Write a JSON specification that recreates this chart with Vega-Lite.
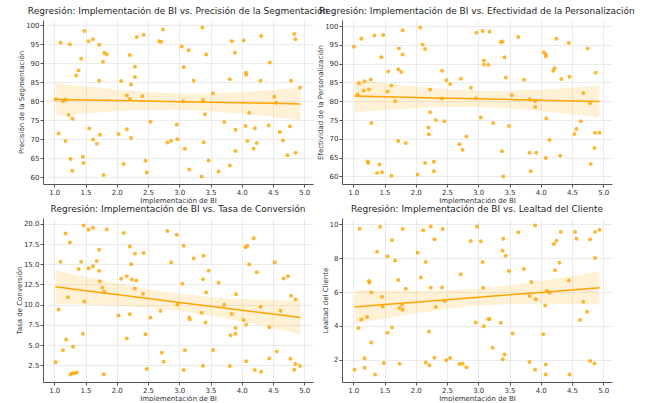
{
  "$schema": "https://vega.github.io/schema/vega-lite/v6.json",
  "padding": {"left": 15, "top": 7, "right": 0, "bottom": 0},
  "config": {
    "font": "DejaVu Sans",
    "view": {"stroke": null},
    "axis": {"labelFontSize": 7, "titleFontSize": 7, "labelColor": "#333333", "titleColor": "#333333", "titleFontWeight": "normal", "gridColor": "#e6e6e6", "gridWidth": 0.8, "domainColor": "#555555", "tickColor": "#555555", "tickSize": 3, "labelPadding": 1, "titlePadding": 1, "labelOverlap": false, "labelFlush": false},
    "title": {"fontSize": 9, "fontWeight": "normal", "color": "#262626", "offset": 4}
  },
  "datasets": {
    "band": [
      {"p":"A","x":1.02,"fit":80.5,"lo":76.2,"hi":84.8},{"p":"A","x":1.5,"fit":80.35,"lo":76.8,"hi":83.9},{"p":"A","x":2.0,"fit":80.2,"lo":77.34,"hi":83.06},{"p":"A","x":2.5,"fit":80.05,"lo":77.69,"hi":82.41},{"p":"A","x":3.0,"fit":79.89,"lo":77.73,"hi":82.05},{"p":"A","x":3.5,"fit":79.74,"lo":77.38,"hi":82.1},{"p":"A","x":4.0,"fit":79.59,"lo":76.73,"hi":82.45},{"p":"A","x":4.5,"fit":79.44,"lo":75.89,"hi":82.99},{"p":"A","x":4.94,"fit":79.3,"lo":75.06,"hi":83.54},
      {"p":"B","x":1.02,"fit":81.4,"lo":77.1,"hi":85.7},{"p":"B","x":1.5,"fit":81.22,"lo":77.67,"hi":84.77},{"p":"B","x":2.0,"fit":81.02,"lo":78.16,"hi":83.88},{"p":"B","x":2.5,"fit":80.83,"lo":78.47,"hi":83.19},{"p":"B","x":3.0,"fit":80.64,"lo":78.48,"hi":82.8},{"p":"B","x":3.5,"fit":80.45,"lo":78.09,"hi":82.81},{"p":"B","x":4.0,"fit":80.26,"lo":77.4,"hi":83.12},{"p":"B","x":4.5,"fit":80.07,"lo":76.52,"hi":83.62},{"p":"B","x":4.94,"fit":79.9,"lo":75.66,"hi":84.14},
      {"p":"C","x":1.02,"fit":12.2,"lo":10.1,"hi":14.3},{"p":"C","x":1.5,"fit":11.73,"lo":10.0,"hi":13.46},{"p":"C","x":2.0,"fit":11.25,"lo":9.85,"hi":12.65},{"p":"C","x":2.5,"fit":10.77,"lo":9.62,"hi":11.92},{"p":"C","x":3.0,"fit":10.28,"lo":9.22,"hi":11.34},{"p":"C","x":3.5,"fit":9.8,"lo":8.65,"hi":10.95},{"p":"C","x":4.0,"fit":9.31,"lo":7.91,"hi":10.71},{"p":"C","x":4.5,"fit":8.83,"lo":7.1,"hi":10.56},{"p":"C","x":4.94,"fit":8.4,"lo":6.33,"hi":10.47},
      {"p":"D","x":1.02,"fit":5.12,"lo":4.12,"hi":6.12},{"p":"D","x":1.5,"fit":5.26,"lo":4.43,"hi":6.09},{"p":"D","x":2.0,"fit":5.4,"lo":4.73,"hi":6.07},{"p":"D","x":2.5,"fit":5.55,"lo":5.0,"hi":6.1},{"p":"D","x":3.0,"fit":5.69,"lo":5.19,"hi":6.19},{"p":"D","x":3.5,"fit":5.84,"lo":5.29,"hi":6.39},{"p":"D","x":4.0,"fit":5.98,"lo":5.31,"hi":6.65},{"p":"D","x":4.5,"fit":6.12,"lo":5.29,"hi":6.95},{"p":"D","x":4.94,"fit":6.25,"lo":5.26,"hi":7.24}
    ],
    "pts": [
      {"p":"A","x":1.02,"y":80.5},{"p":"A","x":1.10,"y":95.5},{"p":"A","x":1.07,"y":71.5},{"p":"A","x":1.14,"y":80.0},{"p":"A","x":1.18,"y":80.4},{"p":"A","x":1.18,"y":69.5},{"p":"A","x":1.23,"y":76.4},{"p":"A","x":1.25,"y":95.0},{"p":"A","x":1.26,"y":64.8},{"p":"A","x":1.29,"y":75.4},
      {"p":"A","x":1.29,"y":61.7},{"p":"A","x":1.35,"y":86.8},{"p":"A","x":1.39,"y":88.1},{"p":"A","x":1.43,"y":91.2},{"p":"A","x":1.46,"y":65.4},{"p":"A","x":1.47,"y":63.7},{"p":"A","x":1.48,"y":98.5},{"p":"A","x":1.55,"y":95.8},{"p":"A","x":1.56,"y":72.8},{"p":"A","x":1.62,"y":96.3},
      {"p":"A","x":1.62,"y":69.9},{"p":"A","x":1.68,"y":68.8},{"p":"A","x":1.72,"y":94.9},{"p":"A","x":1.72,"y":85.4},{"p":"A","x":1.73,"y":71.2},{"p":"A","x":1.78,"y":90.4},{"p":"A","x":1.79,"y":60.6},{"p":"A","x":1.80,"y":92.8},{"p":"A","x":1.84,"y":92.3},{"p":"A","x":2.03,"y":71.4},
      {"p":"A","x":2.07,"y":85.3},{"p":"A","x":2.11,"y":63.5},{"p":"A","x":2.16,"y":81.5},{"p":"A","x":2.16,"y":72.6},{"p":"A","x":2.21,"y":92.2},{"p":"A","x":2.21,"y":80.6},{"p":"A","x":2.23,"y":84.4},{"p":"A","x":2.23,"y":70.3},{"p":"A","x":2.29,"y":86.4},{"p":"A","x":2.29,"y":89.1},
      {"p":"A","x":2.32,"y":96.9},{"p":"A","x":2.41,"y":81.3},{"p":"A","x":2.43,"y":97.5},{"p":"A","x":2.46,"y":64.3},{"p":"A","x":2.48,"y":61.2},{"p":"A","x":2.54,"y":74.6},{"p":"A","x":2.68,"y":95.8},{"p":"A","x":2.71,"y":95.7},{"p":"A","x":2.74,"y":98.9},{"p":"A","x":2.81,"y":69.1},
      {"p":"A","x":2.87,"y":69.6},{"p":"A","x":2.96,"y":73.9},{"p":"A","x":2.97,"y":70.0},{"p":"A","x":3.04,"y":94.4},{"p":"A","x":3.06,"y":80.0},{"p":"A","x":3.07,"y":89.0},{"p":"A","x":3.09,"y":67.5},{"p":"A","x":3.15,"y":93.4},{"p":"A","x":3.16,"y":62.0},{"p":"A","x":3.23,"y":85.4},
      {"p":"A","x":3.36,"y":60.2},{"p":"A","x":3.38,"y":80.3},{"p":"A","x":3.37,"y":99.4},{"p":"A","x":3.39,"y":69.2},{"p":"A","x":3.41,"y":76.6},{"p":"A","x":3.43,"y":92.3},{"p":"A","x":3.47,"y":64.4},{"p":"A","x":3.54,"y":82.1},{"p":"A","x":3.63,"y":61.5},{"p":"A","x":3.72,"y":74.5},
      {"p":"A","x":3.81,"y":85.8},{"p":"A","x":3.81,"y":63.1},{"p":"A","x":3.84,"y":95.8},{"p":"A","x":3.89,"y":92.8},{"p":"A","x":3.90,"y":66.9},{"p":"A","x":3.90,"y":72.5},{"p":"A","x":4.03,"y":96.0},{"p":"A","x":4.06,"y":73.5},{"p":"A","x":4.07,"y":87.5},{"p":"A","x":4.07,"y":87.0},
      {"p":"A","x":4.09,"y":69.5},{"p":"A","x":4.12,"y":77.0},{"p":"A","x":4.19,"y":67.5},{"p":"A","x":4.21,"y":72.9},{"p":"A","x":4.24,"y":69.0},{"p":"A","x":4.30,"y":85.4},{"p":"A","x":4.31,"y":97.2},{"p":"A","x":4.43,"y":73.6},{"p":"A","x":4.45,"y":90.2},{"p":"A","x":4.52,"y":81.2},
      {"p":"A","x":4.55,"y":79.6},{"p":"A","x":4.61,"y":71.9},{"p":"A","x":4.66,"y":69.7},{"p":"A","x":4.73,"y":65.8},{"p":"A","x":4.77,"y":73.4},{"p":"A","x":4.79,"y":85.4},{"p":"A","x":4.84,"y":97.7},{"p":"A","x":4.86,"y":96.3},{"p":"A","x":4.86,"y":66.4},{"p":"A","x":4.93,"y":83.6},

      {"p":"B","x":1.01,"y":94.5},{"p":"B","x":1.07,"y":81.8},{"p":"B","x":1.09,"y":84.8},{"p":"B","x":1.13,"y":96.6},{"p":"B","x":1.17,"y":82.8},{"p":"B","x":1.18,"y":85.3},{"p":"B","x":1.25,"y":83.1},{"p":"B","x":1.28,"y":85.8},{"p":"B","x":1.29,"y":74.2},{"p":"B","x":1.34,"y":97.5},
      {"p":"B","x":1.23,"y":64.0},{"p":"B","x":1.24,"y":63.6},{"p":"B","x":1.38,"y":60.9},{"p":"B","x":1.42,"y":63.2},{"p":"B","x":1.45,"y":91.7},{"p":"B","x":1.46,"y":61.1},{"p":"B","x":1.48,"y":97.6},{"p":"B","x":1.55,"y":82.6},{"p":"B","x":1.56,"y":87.9},{"p":"B","x":1.61,"y":84.2},
      {"p":"B","x":1.61,"y":60.2},{"p":"B","x":1.67,"y":80.0},{"p":"B","x":1.72,"y":88.5},{"p":"B","x":1.73,"y":94.0},{"p":"B","x":1.72,"y":69.4},{"p":"B","x":1.77,"y":87.8},{"p":"B","x":1.79,"y":92.4},{"p":"B","x":1.79,"y":98.9},{"p":"B","x":1.84,"y":68.9},{"p":"B","x":2.03,"y":60.5},
      {"p":"B","x":2.07,"y":99.6},{"p":"B","x":2.11,"y":95.1},{"p":"B","x":2.15,"y":93.9},{"p":"B","x":2.15,"y":63.6},{"p":"B","x":2.20,"y":73.0},{"p":"B","x":2.21,"y":71.2},{"p":"B","x":2.23,"y":83.1},{"p":"B","x":2.23,"y":77.1},{"p":"B","x":2.29,"y":63.9},{"p":"B","x":2.29,"y":61.4},
      {"p":"B","x":2.32,"y":75.0},{"p":"B","x":2.42,"y":88.1},{"p":"B","x":2.42,"y":80.7},{"p":"B","x":2.46,"y":74.7},{"p":"B","x":2.49,"y":85.6},{"p":"B","x":2.55,"y":84.6},{"p":"B","x":2.70,"y":68.6},{"p":"B","x":2.72,"y":86.0},{"p":"B","x":2.75,"y":67.1},{"p":"B","x":2.81,"y":70.6},
      {"p":"B","x":2.88,"y":83.6},{"p":"B","x":2.96,"y":80.8},{"p":"B","x":2.97,"y":98.2},{"p":"B","x":3.04,"y":75.7},{"p":"B","x":3.07,"y":98.7},{"p":"B","x":3.09,"y":90.8},{"p":"B","x":3.09,"y":89.8},{"p":"B","x":3.16,"y":89.7},{"p":"B","x":3.18,"y":98.5},{"p":"B","x":3.24,"y":74.2},
      {"p":"B","x":3.36,"y":95.7},{"p":"B","x":3.39,"y":95.9},{"p":"B","x":3.38,"y":66.7},{"p":"B","x":3.40,"y":60.0},{"p":"B","x":3.42,"y":91.7},{"p":"B","x":3.44,"y":86.3},{"p":"B","x":3.49,"y":73.4},{"p":"B","x":3.54,"y":81.6},{"p":"B","x":3.64,"y":97.1},{"p":"B","x":3.73,"y":85.7},
      {"p":"B","x":3.82,"y":80.5},{"p":"B","x":3.82,"y":66.3},{"p":"B","x":3.84,"y":61.4},{"p":"B","x":3.91,"y":80.0},{"p":"B","x":3.91,"y":78.5},{"p":"B","x":3.93,"y":66.3},{"p":"B","x":4.05,"y":93.0},{"p":"B","x":4.08,"y":92.5},{"p":"B","x":4.08,"y":91.9},{"p":"B","x":4.09,"y":75.4},
      {"p":"B","x":4.08,"y":64.9},{"p":"B","x":4.14,"y":69.7},{"p":"B","x":4.20,"y":88.1},{"p":"B","x":4.22,"y":88.8},{"p":"B","x":4.25,"y":96.6},{"p":"B","x":4.33,"y":85.9},{"p":"B","x":4.31,"y":65.5},{"p":"B","x":4.45,"y":95.5},{"p":"B","x":4.46,"y":86.5},{"p":"B","x":4.54,"y":71.3},
      {"p":"B","x":4.57,"y":72.6},{"p":"B","x":4.64,"y":74.7},{"p":"B","x":4.68,"y":82.2},{"p":"B","x":4.75,"y":94.0},{"p":"B","x":4.79,"y":79.5},{"p":"B","x":4.80,"y":63.3},{"p":"B","x":4.86,"y":67.6},{"p":"B","x":4.87,"y":71.6},{"p":"B","x":4.88,"y":87.6},{"p":"B","x":4.94,"y":71.6},

      {"p":"C","x":1.02,"y":2.87},{"p":"C","x":1.07,"y":9.4},{"p":"C","x":1.10,"y":15.3},{"p":"C","x":1.14,"y":4.35},{"p":"C","x":1.18,"y":18.8},{"p":"C","x":1.19,"y":5.7},{"p":"C","x":1.22,"y":10.9},{"p":"C","x":1.25,"y":17.7},{"p":"C","x":1.26,"y":1.35},{"p":"C","x":1.29,"y":1.5},
      {"p":"C","x":1.30,"y":4.8},{"p":"C","x":1.33,"y":1.55},{"p":"C","x":1.36,"y":1.6},{"p":"C","x":1.39,"y":14.4},{"p":"C","x":1.43,"y":15.3},{"p":"C","x":1.46,"y":6.4},{"p":"C","x":1.47,"y":19.8},{"p":"C","x":1.48,"y":10.4},{"p":"C","x":1.55,"y":19.3},{"p":"C","x":1.55,"y":14.5},
      {"p":"C","x":1.62,"y":19.5},{"p":"C","x":1.62,"y":14.75},{"p":"C","x":1.68,"y":15.4},{"p":"C","x":1.72,"y":16.8},{"p":"C","x":1.72,"y":14.2},{"p":"C","x":1.73,"y":12.9},{"p":"C","x":1.77,"y":12.1},{"p":"C","x":1.79,"y":1.4},{"p":"C","x":1.80,"y":11.6},{"p":"C","x":1.84,"y":19.3},
      {"p":"C","x":2.03,"y":8.65},{"p":"C","x":2.07,"y":13.2},{"p":"C","x":2.11,"y":18.85},{"p":"C","x":2.16,"y":13.5},{"p":"C","x":2.16,"y":5.8},{"p":"C","x":2.21,"y":17.2},{"p":"C","x":2.21,"y":8.8},{"p":"C","x":2.23,"y":15.0},{"p":"C","x":2.24,"y":13.1},{"p":"C","x":2.29,"y":16.3},
      {"p":"C","x":2.29,"y":12.0},{"p":"C","x":2.31,"y":13.0},{"p":"C","x":2.42,"y":11.35},{"p":"C","x":2.43,"y":16.4},{"p":"C","x":2.46,"y":6.35},{"p":"C","x":2.48,"y":2.05},{"p":"C","x":2.54,"y":8.4},{"p":"C","x":2.70,"y":9.2},{"p":"C","x":2.72,"y":4.05},{"p":"C","x":2.75,"y":2.95},
      {"p":"C","x":2.81,"y":19.1},{"p":"C","x":2.87,"y":15.2},{"p":"C","x":2.96,"y":18.65},{"p":"C","x":2.97,"y":10.0},{"p":"C","x":3.05,"y":12.6},{"p":"C","x":3.07,"y":17.3},{"p":"C","x":3.07,"y":1.9},{"p":"C","x":3.09,"y":4.35},{"p":"C","x":3.16,"y":8.4},{"p":"C","x":3.17,"y":8.15},
      {"p":"C","x":3.23,"y":15.7},{"p":"C","x":3.36,"y":9.0},{"p":"C","x":3.38,"y":2.45},{"p":"C","x":3.38,"y":13.15},{"p":"C","x":3.39,"y":16.05},{"p":"C","x":3.42,"y":7.8},{"p":"C","x":3.43,"y":11.5},{"p":"C","x":3.47,"y":14.2},{"p":"C","x":3.54,"y":4.4},{"p":"C","x":3.63,"y":12.7},
      {"p":"C","x":3.72,"y":10.0},{"p":"C","x":3.81,"y":2.4},{"p":"C","x":3.82,"y":6.2},{"p":"C","x":3.84,"y":8.85},{"p":"C","x":3.90,"y":6.4},{"p":"C","x":3.90,"y":7.1},{"p":"C","x":3.91,"y":11.3},{"p":"C","x":4.03,"y":8.1},{"p":"C","x":4.06,"y":17.1},{"p":"C","x":4.07,"y":7.5},
      {"p":"C","x":4.07,"y":3.0},{"p":"C","x":4.09,"y":17.3},{"p":"C","x":4.12,"y":15.0},{"p":"C","x":4.19,"y":18.2},{"p":"C","x":4.21,"y":1.9},{"p":"C","x":4.24,"y":14.0},{"p":"C","x":4.30,"y":9.75},{"p":"C","x":4.31,"y":1.7},{"p":"C","x":4.44,"y":7.2},{"p":"C","x":4.44,"y":3.35},
      {"p":"C","x":4.53,"y":15.25},{"p":"C","x":4.56,"y":4.2},{"p":"C","x":4.62,"y":9.25},{"p":"C","x":4.67,"y":13.25},{"p":"C","x":4.74,"y":13.5},{"p":"C","x":4.78,"y":3.3},{"p":"C","x":4.79,"y":11.1},{"p":"C","x":4.86,"y":10.65},{"p":"C","x":4.86,"y":2.65},{"p":"C","x":4.84,"y":1.95},
      {"p":"C","x":4.93,"y":2.4},

      {"p":"D","x":1.02,"y":1.41},{"p":"D","x":1.08,"y":3.88},{"p":"D","x":1.10,"y":9.75},{"p":"D","x":1.13,"y":4.37},{"p":"D","x":1.18,"y":2.08},{"p":"D","x":1.18,"y":1.53},{"p":"D","x":1.22,"y":4.53},{"p":"D","x":1.25,"y":6.65},{"p":"D","x":1.26,"y":6.57},{"p":"D","x":1.29,"y":3.02},
      {"p":"D","x":1.29,"y":5.98},{"p":"D","x":1.35,"y":1.12},{"p":"D","x":1.38,"y":8.39},{"p":"D","x":1.43,"y":9.86},{"p":"D","x":1.46,"y":5.71},{"p":"D","x":1.47,"y":5.14},{"p":"D","x":1.49,"y":1.80},{"p":"D","x":1.55,"y":8.12},{"p":"D","x":1.55,"y":3.59},{"p":"D","x":1.62,"y":3.90},
      {"p":"D","x":1.62,"y":9.06},{"p":"D","x":1.67,"y":7.86},{"p":"D","x":1.72,"y":6.71},{"p":"D","x":1.74,"y":1.76},{"p":"D","x":1.74,"y":5.06},{"p":"D","x":1.78,"y":5.25},{"p":"D","x":1.79,"y":9.73},{"p":"D","x":1.79,"y":4.96},{"p":"D","x":1.84,"y":6.20},{"p":"D","x":2.03,"y":8.33},
      {"p":"D","x":2.08,"y":6.86},{"p":"D","x":2.12,"y":9.65},{"p":"D","x":2.16,"y":7.78},{"p":"D","x":2.16,"y":1.84},{"p":"D","x":2.21,"y":3.67},{"p":"D","x":2.22,"y":1.67},{"p":"D","x":2.24,"y":6.25},{"p":"D","x":2.24,"y":9.88},{"p":"D","x":2.30,"y":9.12},{"p":"D","x":2.30,"y":2.12},
      {"p":"D","x":2.32,"y":5.12},{"p":"D","x":2.42,"y":6.27},{"p":"D","x":2.43,"y":9.73},{"p":"D","x":2.46,"y":5.47},{"p":"D","x":2.49,"y":1.96},{"p":"D","x":2.55,"y":2.10},{"p":"D","x":2.70,"y":1.75},{"p":"D","x":2.72,"y":7.06},{"p":"D","x":2.75,"y":1.76},{"p":"D","x":2.81,"y":1.55},
      {"p":"D","x":2.88,"y":9.02},{"p":"D","x":2.96,"y":4.20},{"p":"D","x":2.98,"y":9.88},{"p":"D","x":3.04,"y":9.00},{"p":"D","x":3.07,"y":7.78},{"p":"D","x":3.08,"y":6.25},{"p":"D","x":3.09,"y":3.98},{"p":"D","x":3.16,"y":4.41},{"p":"D","x":3.18,"y":4.41},{"p":"D","x":3.23,"y":2.71},
      {"p":"D","x":3.36,"y":4.18},{"p":"D","x":3.39,"y":8.45},{"p":"D","x":3.39,"y":2.02},{"p":"D","x":3.40,"y":9.16},{"p":"D","x":3.42,"y":2.31},{"p":"D","x":3.44,"y":8.14},{"p":"D","x":3.49,"y":7.25},{"p":"D","x":3.55,"y":3.55},{"p":"D","x":3.64,"y":9.53},{"p":"D","x":3.73,"y":7.37},
      {"p":"D","x":3.82,"y":5.76},{"p":"D","x":3.82,"y":1.86},{"p":"D","x":3.85,"y":6.59},{"p":"D","x":3.91,"y":1.41},{"p":"D","x":3.91,"y":9.94},{"p":"D","x":3.92,"y":5.57},{"p":"D","x":4.04,"y":3.51},{"p":"D","x":4.07,"y":5.20},{"p":"D","x":4.08,"y":1.71},{"p":"D","x":4.08,"y":1.12},
      {"p":"D","x":4.10,"y":6.06},{"p":"D","x":4.14,"y":5.96},{"p":"D","x":4.21,"y":8.84},{"p":"D","x":4.23,"y":7.29},{"p":"D","x":4.25,"y":9.04},{"p":"D","x":4.30,"y":7.73},{"p":"D","x":4.32,"y":9.55},{"p":"D","x":4.45,"y":6.69},{"p":"D","x":4.46,"y":1.12},{"p":"D","x":4.55,"y":9.55},
      {"p":"D","x":4.57,"y":9.16},{"p":"D","x":4.63,"y":4.35},{"p":"D","x":4.68,"y":5.43},{"p":"D","x":4.74,"y":4.84},{"p":"D","x":4.79,"y":9.12},{"p":"D","x":4.79,"y":1.92},{"p":"D","x":4.86,"y":1.78},{"p":"D","x":4.87,"y":8.02},{"p":"D","x":4.87,"y":9.55},{"p":"D","x":4.94,"y":9.69}
    ]
  },
  "bounds": "flush",
  "spacing": {"row": 34, "column": 29},
  "columns": 2,
  "concat": [
    {
      "width": 270, "height": 164,
      "title": "Regresión: Implementación de BI vs. Precisión de la Segmentación",
      "layer": [
        {"data": {"name": "band"}, "transform": [{"filter": "datum.p === 'A'"}],
         "mark": {"type": "area", "color": "#FFA500", "opacity": 0.16},
         "encoding": {
           "x": {"field": "x", "type": "quantitative", "title": "Implementación de BI", "scale": {"domain": [0.82, 5.14], "nice": false, "zero": false}, "axis": {"values": [1, 1.5, 2, 2.5, 3, 3.5, 4, 4.5, 5], "format": ".1f", "labelOverlap": false, "tickCount": 9}},
           "y": {"field": "lo", "type": "quantitative", "title": "Precisión de la Segmentación", "scale": {"domain": [58.2, 101.4], "nice": false, "zero": false}, "axis": {"values": [60, 65, 70, 75, 80, 85, 90, 95, 100], "format": "d", "labelOverlap": false, "tickCount": 9}},
           "y2": {"field": "hi"}}},
        {"data": {"name": "band"}, "transform": [{"filter": "datum.p === 'A'"}],
         "mark": {"type": "line", "color": "#FFA500", "strokeWidth": 1.5},
         "encoding": {"x": {"field": "x", "type": "quantitative", "title": "Implementación de BI"}, "y": {"field": "fit", "type": "quantitative", "title": "Precisión de la Segmentación"}}},
        {"data": {"name": "pts"}, "transform": [{"filter": "datum.p === 'A'"}],
         "mark": {"type": "circle", "color": "#FFA500", "opacity": 0.8, "size": 16},
         "encoding": {"x": {"field": "x", "type": "quantitative", "title": "Implementación de BI"}, "y": {"field": "y", "type": "quantitative", "title": "Precisión de la Segmentación"}}}
      ]
    },
    {
      "width": 270, "height": 164,
      "title": "Regresión: Implementación de BI vs. Efectividad de la Personalización",
      "layer": [
        {"data": {"name": "band"}, "transform": [{"filter": "datum.p === 'B'"}],
         "mark": {"type": "area", "color": "#FFA500", "opacity": 0.16},
         "encoding": {
           "x": {"field": "x", "type": "quantitative", "title": "Implementación de BI", "scale": {"domain": [0.82, 5.14], "nice": false, "zero": false}, "axis": {"values": [1, 1.5, 2, 2.5, 3, 3.5, 4, 4.5, 5], "format": ".1f", "labelOverlap": false, "tickCount": 9}},
           "y": {"field": "lo", "type": "quantitative", "title": "Efectividad de la Personalización", "scale": {"domain": [58.0, 101.6], "nice": false, "zero": false}, "axis": {"values": [60, 65, 70, 75, 80, 85, 90, 95, 100], "format": "d", "labelOverlap": false, "tickCount": 9}},
           "y2": {"field": "hi"}}},
        {"data": {"name": "band"}, "transform": [{"filter": "datum.p === 'B'"}],
         "mark": {"type": "line", "color": "#FFA500", "strokeWidth": 1.5},
         "encoding": {"x": {"field": "x", "type": "quantitative", "title": "Implementación de BI"}, "y": {"field": "fit", "type": "quantitative", "title": "Efectividad de la Personalización"}}},
        {"data": {"name": "pts"}, "transform": [{"filter": "datum.p === 'B'"}],
         "mark": {"type": "circle", "color": "#FFA500", "opacity": 0.8, "size": 16},
         "encoding": {"x": {"field": "x", "type": "quantitative", "title": "Implementación de BI"}, "y": {"field": "y", "type": "quantitative", "title": "Efectividad de la Personalización"}}}
      ]
    },
    {
      "width": 270, "height": 164,
      "title": "Regresión: Implementación de BI vs. Tasa de Conversión",
      "layer": [
        {"data": {"name": "band"}, "transform": [{"filter": "datum.p === 'C'"}],
         "mark": {"type": "area", "color": "#FFA500", "opacity": 0.16},
         "encoding": {
           "x": {"field": "x", "type": "quantitative", "title": "Implementación de BI", "scale": {"domain": [0.82, 5.14], "nice": false, "zero": false}, "axis": {"values": [1, 1.5, 2, 2.5, 3, 3.5, 4, 4.5, 5], "format": ".1f", "labelOverlap": false, "tickCount": 9}},
           "y": {"field": "lo", "type": "quantitative", "title": "Tasa de Conversión", "scale": {"domain": [0.43, 20.72], "nice": false, "zero": false}, "axis": {"values": [2.5, 5, 7.5, 10, 12.5, 15, 17.5, 20], "format": ".1f", "labelOverlap": false, "tickCount": 8}},
           "y2": {"field": "hi"}}},
        {"data": {"name": "band"}, "transform": [{"filter": "datum.p === 'C'"}],
         "mark": {"type": "line", "color": "#FFA500", "strokeWidth": 1.5},
         "encoding": {"x": {"field": "x", "type": "quantitative", "title": "Implementación de BI"}, "y": {"field": "fit", "type": "quantitative", "title": "Tasa de Conversión"}}},
        {"data": {"name": "pts"}, "transform": [{"filter": "datum.p === 'C'"}],
         "mark": {"type": "circle", "color": "#FFA500", "opacity": 0.8, "size": 16},
         "encoding": {"x": {"field": "x", "type": "quantitative", "title": "Implementación de BI"}, "y": {"field": "y", "type": "quantitative", "title": "Tasa de Conversión"}}}
      ]
    },
    {
      "width": 270, "height": 164,
      "title": "Regresión: Implementación de BI vs. Lealtad del Cliente",
      "layer": [
        {"data": {"name": "band"}, "transform": [{"filter": "datum.p === 'D'"}],
         "mark": {"type": "area", "color": "#FFA500", "opacity": 0.16},
         "encoding": {
           "x": {"field": "x", "type": "quantitative", "title": "Implementación de BI", "scale": {"domain": [0.82, 5.14], "nice": false, "zero": false}, "axis": {"values": [1, 1.5, 2, 2.5, 3, 3.5, 4, 4.5, 5], "format": ".1f", "labelOverlap": false, "tickCount": 9}},
           "y": {"field": "lo", "type": "quantitative", "title": "Lealtad del Cliente", "scale": {"domain": [0.68, 10.38], "nice": false, "zero": false}, "axis": {"values": [2, 4, 6, 8, 10], "format": "d", "labelOverlap": false}},
           "y2": {"field": "hi"}}},
        {"data": {"name": "band"}, "transform": [{"filter": "datum.p === 'D'"}],
         "mark": {"type": "line", "color": "#FFA500", "strokeWidth": 1.5},
         "encoding": {"x": {"field": "x", "type": "quantitative", "title": "Implementación de BI"}, "y": {"field": "fit", "type": "quantitative", "title": "Lealtad del Cliente"}}},
        {"data": {"name": "pts"}, "transform": [{"filter": "datum.p === 'D'"}],
         "mark": {"type": "circle", "color": "#FFA500", "opacity": 0.8, "size": 16},
         "encoding": {"x": {"field": "x", "type": "quantitative", "title": "Implementación de BI"}, "y": {"field": "y", "type": "quantitative", "title": "Lealtad del Cliente"}}}
      ]
    }
  ]
}
